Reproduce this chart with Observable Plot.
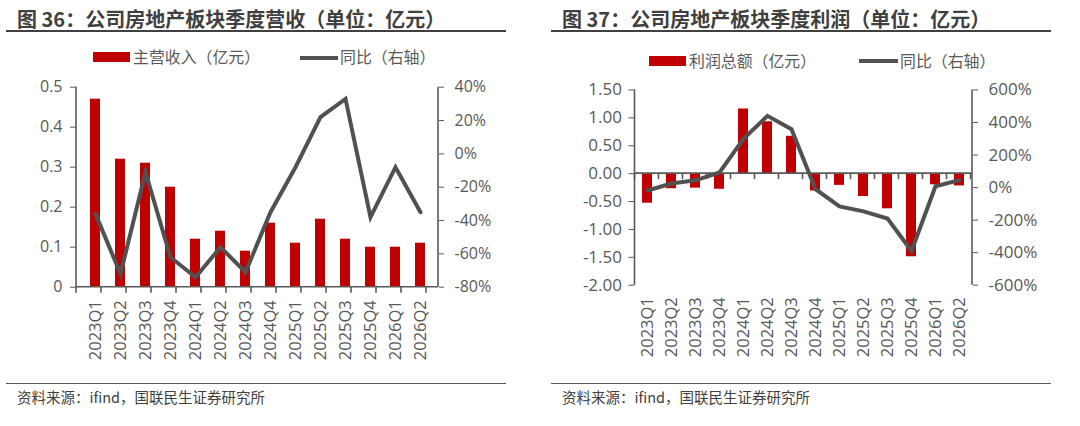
<!DOCTYPE html>
<html>
<head>
<meta charset="utf-8">
<script src="https://cdn.jsdelivr.net/npm/d3@7"></script>
<script src="https://cdn.jsdelivr.net/npm/@observablehq/plot@0.6"></script>
<style>
  html, body { margin: 0; padding: 0; background: #fff; }
  #wrap { position: relative; width: 1080px; height: 426px; overflow: hidden; font-family: "Noto Sans CJK SC", "Open Sans", sans-serif; }
  .abs { position: absolute; white-space: nowrap; }
  .title { font-size: 20px; font-weight: bold; color: #404040; line-height: 1; }
  .rule { position: absolute; height: 0; }
  .legtxt { font-size: 15.9px; color: #595959; line-height: 1; }
  .src { font-size: 14.5px; color: #404040; line-height: 1; }
  .chart { position: absolute; top: 0; }
</style>
</head>
<body>
<div id="wrap">
  <div class="abs title" style="left:17px; top:9px;">图 36：公司房地产板块季度营收（单位：亿元）</div>
  <div class="rule" style="left:6px; width:500px; top:30px; border-top:2px solid #404040;"></div>
  <div class="abs" style="left:93px; top:52px; width:37px; height:9.5px; background:#C00000;"></div>
  <div class="abs legtxt" style="left:133px; top:49px;">主营收入（亿元）</div>
  <div class="abs" style="left:300px; top:55.5px; width:38px; height:4px; background:#515151;"></div>
  <div class="abs legtxt" style="left:340px; top:49px;">同比（右轴）</div>
  <div class="rule" style="left:6px; width:500px; top:382.5px; border-top:1.5px solid #595959;"></div>
  <div class="abs src" style="left:17px; top:390px;">资料来源：ifind，国联民生证券研究所</div>

  <div class="abs title" style="left:562px; top:9px;">图 37：公司房地产板块季度利润（单位：亿元）</div>
  <div class="rule" style="left:551px; width:500px; top:30px; border-top:2px solid #404040;"></div>
  <div class="abs" style="left:649px; top:56px; width:37px; height:9.5px; background:#C00000;"></div>
  <div class="abs legtxt" style="left:689px; top:53px;">利润总额（亿元）</div>
  <div class="abs" style="left:859px; top:59px; width:39px; height:4px; background:#515151;"></div>
  <div class="abs legtxt" style="left:900px; top:53px;">同比（右轴）</div>
  <div class="rule" style="left:551px; width:500px; top:382.5px; border-top:1.5px solid #595959;"></div>
  <div class="abs src" style="left:562px; top:390px;">资料来源：ifind，国联民生证券研究所</div>

  <div id="c1" class="chart" style="left:0px;"></div>
  <div id="c2" class="chart" style="left:540px;"></div>
</div>
<script>
// ---------------- data ----------------
const quarters = ["2023Q1","2023Q2","2023Q3","2023Q4","2024Q1","2024Q2","2024Q3","2024Q4","2025Q1","2025Q2","2025Q3","2025Q4","2026Q1","2026Q2"];
const revenue = [0.47,0.32,0.31,0.25,0.12,0.14,0.09,0.16,0.11,0.17,0.12,0.10,0.10,0.11];
const revenueYoY = [-36,-72,-11,-62,-74,-56,-71,-35,-8,22,33,-38,-8,-35];
const profit = [-0.53,-0.27,-0.26,-0.28,1.16,0.93,0.67,-0.31,-0.21,-0.41,-0.63,-1.49,-0.20,-0.22];
const profitYoY = [-18,25,45,93,300,441,359,-10,-116,-146,-190,-390,8,46];

const revTicks = [0,0.1,0.2,0.3,0.4,0.5];
const revYoYTicks = [-80,-60,-40,-20,0,20,40];
const profTicks = [-2,-1.5,-1,-0.5,0,0.5,1,1.5];
const profYoYTicks = [-600,-400,-200,0,200,400,600];

const BAR = "#C00000", LINE = "#515151", AXIS = "#595959", TXT = "#595959";
const FONT = "Open Sans, Noto Sans CJK SC, sans-serif";

// secondary-axis mapping onto the primary scale domain
function mapper(src, dst) {
  const f = v => dst[0] + (v - src[0]) / (src[1] - src[0]) * (dst[1] - dst[0]);
  const inv = v => src[0] + (v - dst[0]) / (dst[1] - dst[0]) * (src[1] - src[0]);
  return {f, inv};
}

// axis lines + category boundary ticks drawn from the plot's own scales
function frameMarks({zeroY, tickLen}) {
  return (index, scales, values, dims) => {
    const x = scales.x, y = scales.y;
    const g = d3.create("svg:g").attr("stroke", AXIS).attr("stroke-width", 1.6).attr("fill", "none");
    const [y0, y1] = y.range();
    const left = dims.marginLeft, right = dims.width - dims.marginRight;
    g.append("line").attr("x1", left).attr("x2", left).attr("y1", Math.min(y0,y1)).attr("y2", Math.max(y0,y1));
    g.append("line").attr("x1", right).attr("x2", right).attr("y1", Math.min(y0,y1)).attr("y2", Math.max(y0,y1));
    const yz = y(zeroY);
    g.append("line").attr("x1", left).attr("x2", right).attr("y1", yz).attr("y2", yz);
    const dom = x.domain();
    const step = typeof x.step === "function" ? x.step() : (right - left) / dom.length;
    for (let k = 0; k <= dom.length; k++) {
      const xx = left + k * step;
      g.append("line").attr("x1", xx).attr("x2", xx).attr("y1", yz).attr("y2", yz + tickLen);
    }
    return g.node();
  };
}

function chart({values, yoy, yDomain, yoyDomain, ticks, yoyTicks, yFmt, margins, fontSize, xPad, yPad, yPadR}) {
  const m = mapper(yoyDomain, yDomain);
  const data = quarters.map((q, i) => ({q, v: values[i], yoy: yoy[i]}));
  return Plot.plot({
    width: 540, height: 426,
    ...margins,
    style: {fontFamily: FONT, background: "transparent", overflow: "visible"},
    x: {domain: quarters, paddingInner: 0.6, paddingOuter: 0.3},
    y: {domain: yDomain},
    marks: [
      Plot.barY(data, {x: "q", y: "v", fill: BAR}),
      frameMarks({zeroY: 0, tickLen: 6}),
      Plot.line(data, {x: "q", y: d => m.f(d.yoy), stroke: LINE, strokeWidth: 4, strokeLinejoin: "miter", strokeMiterlimit: 4}),
      Plot.axisY({ticks, tickFormat: yFmt, tickSize: 6, tickPadding: yPad, color: AXIS, fill: TXT, fontSize, label: null}),
      Plot.axisY(yoyTicks.map(m.f), {anchor: "right", tickFormat: v => `${Math.round(m.inv(v))}%`, tickSize: 5, tickPadding: yPadR, color: AXIS, fill: TXT, fontSize, label: null}),
      Plot.axisX({anchor: "bottom", tickSize: 0, tickRotate: -90, tickPadding: xPad, fill: TXT, fontSize: 16.5, label: null})
    ]
  });
}

document.getElementById("c1").append(chart({
  values: revenue, yoy: revenueYoY, yDomain: [0, 0.5], yoyDomain: [-80, 40],
  ticks: revTicks, yoyTicks: revYoYTicks,
  yFmt: d => d === 0 ? "0" : d.toFixed(1),
  margins: {marginLeft: 76, marginRight: 102, marginTop: 86.7, marginBottom: 139.3},
  fontSize: 16, xPad: 13, yPad: 8, yPadR: 11
}));

document.getElementById("c2").append(chart({
  values: profit, yoy: profitYoY, yDomain: [-2, 1.5], yoyDomain: [-600, 600],
  ticks: profTicks, yoyTicks: profYoYTicks,
  yFmt: d => d.toFixed(2),
  margins: {marginLeft: 94.5, marginRight: 108, marginTop: 89.5, marginBottom: 141.3},
  fontSize: 17, xPad: 12, yPad: 7, yPadR: 11
}));
</script>
</body>
</html>
